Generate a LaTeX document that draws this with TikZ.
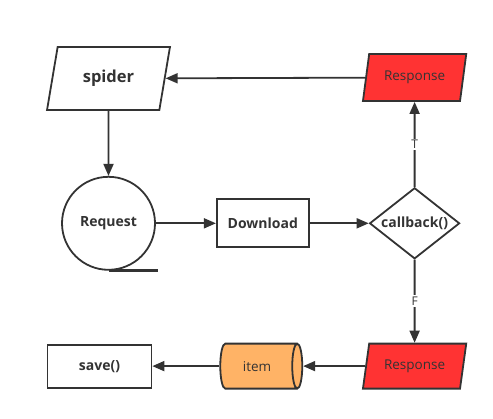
\documentclass[tikz,border=0pt]{standalone}
\usepackage{fontspec}
\setmainfont{Open Sans}
\usetikzlibrary{positioning,shapes.geometric,arrows.meta}
\usepackage{xcolor}
\definecolor{linegray}{HTML}{333333}
\definecolor{respred}{HTML}{FF3333}
\definecolor{itemorange}{HTML}{FFB366}

\begin{document}
\begin{tikzpicture}[
    x=1pt, y=-1pt,
    every node/.style={draw=linegray, line width=1.8pt, align=center, text=linegray, font=\fontsize{13.5}{16}\selectfont},
    every path/.style={line width=1.8pt},
    flow/.style={draw=linegray, -{Triangle[length=12pt, width=10pt]}},
    inout/.style={trapezium, trapezium left angle=72, trapezium right angle=108, trapezium stretches=true, inner sep=0pt},
    bold/.style={font=\fontsize{14}{16}\selectfont\bfseries},
    lbl/.style={draw=none, fill=white, inner sep=1.5pt, font=\fontsize{12}{14}\selectfont}
  ]
    \useasboundingbox (0,0) rectangle (493,418);

    \node[inout, minimum width=123pt, minimum height=63pt, font=\fontsize{16.5}{18}\selectfont\bfseries] (spider) at (108.5,78.5) {spider};
    \node[circle, bold, minimum size=93pt, inner sep=0pt, below=65pt of spider] (request) {Request};
    \node[rectangle, bold, minimum width=92pt, minimum height=48pt, right=60pt of request] (download) {Download};
    \node[diamond, bold, aspect=1.27, inner sep=0pt, minimum width=90pt, minimum height=71pt, right=59pt of download] (callback) {callback()};
    \node[inout, fill=respred, minimum width=104pt, minimum height=47pt, above=85pt of callback] (resp_T) {Response};
    \node[inout, fill=respred, minimum width=104pt, minimum height=45pt, below=83pt of callback] (resp_F) {Response};
    \node[cylinder, aspect=0.6, fill=itemorange, minimum width=45pt, minimum height=82pt, left=62pt of resp_F] (item) {item};
    \node[rectangle, bold, minimum width=104pt, minimum height=43pt, left=67pt of item] (save) {save()};

    \draw[linegray, line width=3pt] (request.south) -- ++(49,0);

    \draw[flow] (resp_T) -- (spider);
    \draw[flow] (spider) -- (request);
    \draw[flow] (request) -- (download);
    \draw[flow] (download) -- (callback);
    \draw[flow] (callback) -- node[lbl] {T} (resp_T);
    \draw[flow] (callback) -- node[lbl] {F} (resp_F);
    \draw[flow] (resp_F) -- (item);
    \draw[flow] (item) -- (save);
  \end{tikzpicture}
\end{document}
